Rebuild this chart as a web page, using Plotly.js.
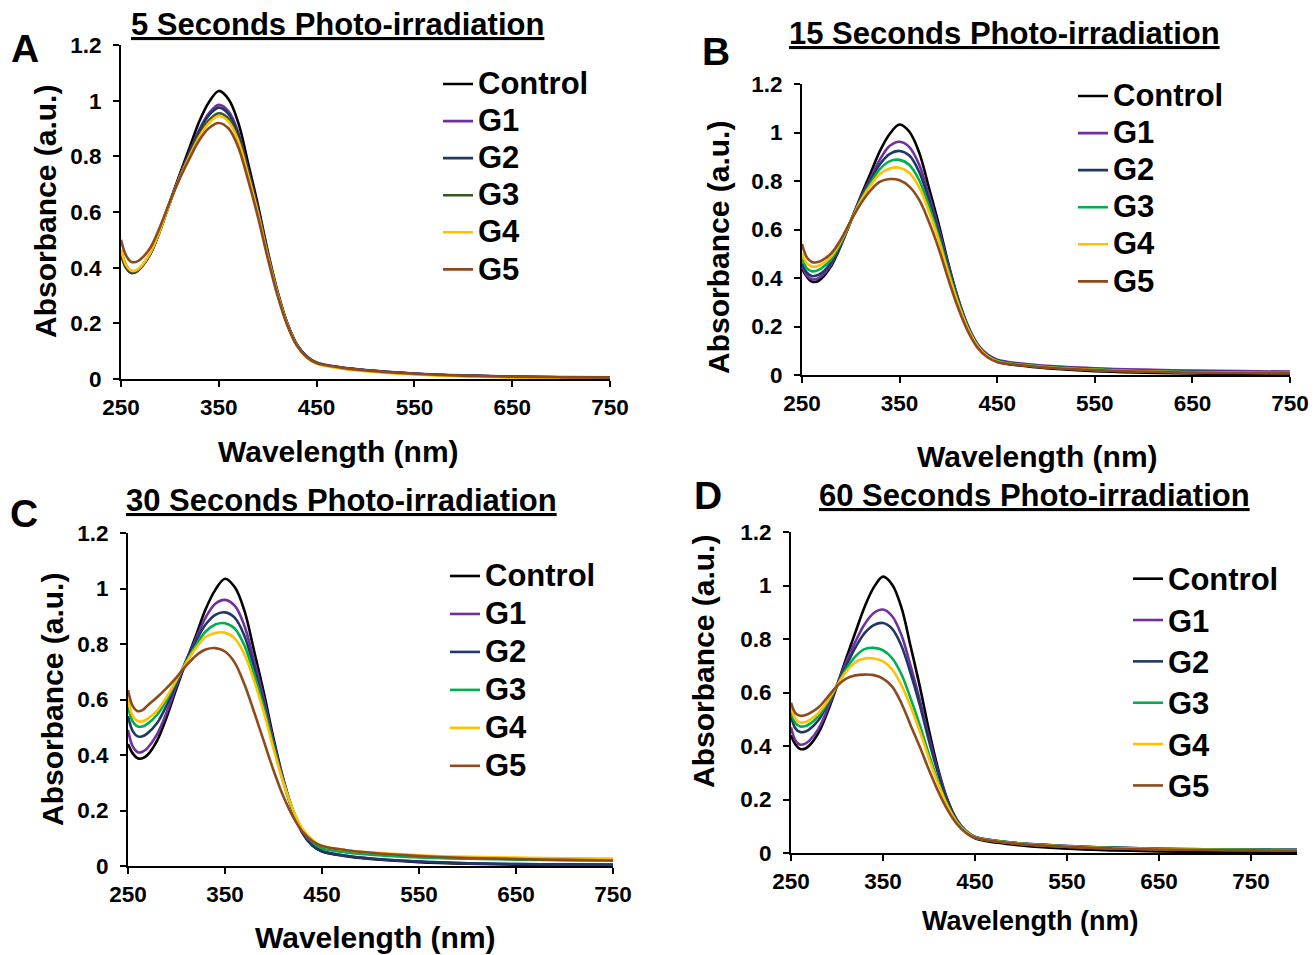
<!DOCTYPE html>
<html>
<head>
<meta charset="utf-8">
<script src="https://cdn.plot.ly/plotly-3.0.1.min.js"></script>
<style>html,body{margin:0;padding:0;background:#fff;}#chart{width:1315px;height:955px;}</style>
</head>
<body>
<div id="chart"></div>
<script>
// ---------- DATA ----------
const wavelength  = [250,255,260,265,270,280,290,300,310,320,330,340,350,360,370,380,390,400,410,420,430,440,450,475,500,550,600,650,700,750];
const wavelengthD = [250,255,260,265,270,280,290,300,310,320,330,340,350,360,370,380,390,400,410,420,430,440,450,475,500,550,600,650,700,750,800];
const seriesNames = ['Control','G1','G2','G3','G4','G5'];
const panelTitles = ['5 Seconds Photo-irradiation','15 Seconds Photo-irradiation','30 Seconds Photo-irradiation','60 Seconds Photo-irradiation'];
const panelLetters = ['A','B','C','D'];
const xTickVals = [250,350,450,550,650,750];
const yTickVals = [0,0.2,0.4,0.6,0.8,1,1.2];
const xTitle = 'Wavelength (nm)';
const yTitle = 'Absorbance (a.u.)';

// Panel A: 5 s
const ctrlA = [0.46,0.41,0.388,0.387,0.40,0.45,0.535,0.635,0.735,0.83,0.925,0.995,1.035,1.005,0.92,0.775,0.625,0.46,0.315,0.2,0.122,0.08,0.058,0.041,0.031,0.019,0.012,0.008,0.006,0.005];
const g1A   = [0.45,0.40,0.382,0.383,0.398,0.45,0.535,0.635,0.73,0.815,0.895,0.955,0.985,0.962,0.885,0.752,0.61,0.452,0.312,0.2,0.123,0.081,0.059,0.042,0.032,0.02,0.013,0.009,0.007,0.006];
const g2A   = [0.45,0.40,0.382,0.384,0.399,0.45,0.535,0.635,0.728,0.812,0.89,0.948,0.975,0.952,0.877,0.747,0.607,0.45,0.31,0.199,0.122,0.08,0.058,0.041,0.031,0.019,0.012,0.008,0.006,0.005];
const g3A   = [0.455,0.405,0.385,0.386,0.40,0.452,0.535,0.635,0.725,0.805,0.878,0.93,0.955,0.935,0.862,0.737,0.6,0.446,0.308,0.198,0.121,0.079,0.057,0.04,0.03,0.018,0.011,0.007,0.005,0.004];
const g4A   = [0.465,0.41,0.39,0.39,0.403,0.454,0.535,0.634,0.722,0.80,0.87,0.92,0.945,0.925,0.855,0.732,0.596,0.443,0.306,0.196,0.12,0.077,0.055,0.038,0.028,0.016,0.009,0.005,0.003,0.002];
const g5A   = [0.50,0.445,0.422,0.42,0.43,0.472,0.548,0.638,0.72,0.792,0.858,0.902,0.92,0.9,0.832,0.714,0.582,0.434,0.3,0.193,0.119,0.078,0.057,0.041,0.031,0.019,0.012,0.008,0.006,0.005];

// Panel B: 15 s
const ctrlB = [0.44,0.405,0.385,0.385,0.398,0.45,0.535,0.635,0.735,0.83,0.925,0.995,1.033,1.003,0.918,0.773,0.623,0.458,0.313,0.198,0.12,0.077,0.055,0.038,0.028,0.016,0.01,0.006,0.004,0.003];
const g1B   = [0.45,0.41,0.395,0.396,0.408,0.458,0.538,0.635,0.73,0.81,0.89,0.945,0.962,0.94,0.868,0.742,0.605,0.452,0.315,0.204,0.127,0.085,0.063,0.047,0.038,0.028,0.022,0.018,0.016,0.014];
const g2B   = [0.46,0.422,0.408,0.41,0.42,0.465,0.54,0.635,0.725,0.8,0.87,0.912,0.924,0.905,0.838,0.722,0.59,0.443,0.308,0.2,0.124,0.081,0.06,0.044,0.035,0.024,0.017,0.013,0.011,0.01];
const g3B   = [0.48,0.44,0.428,0.43,0.44,0.478,0.547,0.636,0.72,0.79,0.85,0.882,0.887,0.866,0.804,0.697,0.572,0.43,0.3,0.195,0.121,0.079,0.058,0.043,0.034,0.023,0.016,0.012,0.01,0.009];
const g4B   = [0.50,0.46,0.447,0.448,0.456,0.49,0.553,0.636,0.715,0.78,0.83,0.852,0.855,0.833,0.775,0.675,0.556,0.419,0.293,0.19,0.118,0.077,0.056,0.041,0.032,0.021,0.015,0.011,0.009,0.008];
const g5B   = [0.54,0.485,0.466,0.465,0.472,0.502,0.56,0.636,0.705,0.76,0.797,0.808,0.803,0.777,0.723,0.632,0.522,0.394,0.276,0.18,0.112,0.073,0.054,0.04,0.031,0.02,0.014,0.01,0.008,0.007];

// Panel C: 30 s
const ctrlC = [0.44,0.405,0.388,0.388,0.40,0.452,0.538,0.64,0.738,0.83,0.925,0.995,1.035,1.005,0.92,0.775,0.625,0.46,0.315,0.198,0.118,0.074,0.052,0.035,0.025,0.014,0.008,0.005,0.003,0.002];
const g1C   = [0.49,0.43,0.41,0.412,0.425,0.475,0.555,0.65,0.74,0.82,0.895,0.945,0.959,0.938,0.866,0.74,0.603,0.45,0.312,0.2,0.122,0.077,0.054,0.037,0.027,0.016,0.01,0.007,0.006,0.005];
const g2C   = [0.54,0.485,0.467,0.468,0.478,0.515,0.58,0.66,0.74,0.81,0.87,0.905,0.914,0.895,0.83,0.715,0.585,0.438,0.305,0.197,0.12,0.076,0.054,0.037,0.027,0.016,0.01,0.007,0.006,0.005];
const g3C   = [0.575,0.52,0.503,0.503,0.512,0.545,0.6,0.668,0.735,0.795,0.845,0.87,0.875,0.856,0.795,0.692,0.572,0.432,0.305,0.201,0.128,0.086,0.064,0.049,0.041,0.031,0.026,0.023,0.021,0.02];
const g4C   = [0.598,0.54,0.522,0.521,0.53,0.56,0.61,0.672,0.732,0.785,0.825,0.84,0.841,0.82,0.763,0.668,0.555,0.422,0.302,0.203,0.133,0.094,0.073,0.057,0.049,0.039,0.033,0.03,0.028,0.027];
const g5C   = [0.634,0.575,0.558,0.562,0.578,0.608,0.642,0.68,0.722,0.758,0.78,0.785,0.773,0.733,0.655,0.555,0.45,0.345,0.252,0.178,0.123,0.09,0.072,0.057,0.048,0.036,0.029,0.025,0.022,0.02];

// Panel D: 60 s
const ctrlD = [0.44,0.405,0.389,0.39,0.402,0.45,0.53,0.625,0.728,0.825,0.92,0.993,1.033,1.003,0.918,0.773,0.623,0.458,0.313,0.198,0.12,0.077,0.055,0.038,0.028,0.016,0.01,0.006,0.004,0.003,0.003];
const g1D   = [0.47,0.42,0.405,0.408,0.42,0.465,0.54,0.628,0.715,0.79,0.855,0.897,0.91,0.885,0.815,0.7,0.572,0.432,0.304,0.2,0.126,0.083,0.061,0.045,0.036,0.026,0.02,0.016,0.014,0.013,0.012];
const g2D   = [0.51,0.465,0.452,0.453,0.462,0.497,0.558,0.628,0.7,0.768,0.822,0.852,0.86,0.838,0.775,0.672,0.553,0.419,0.297,0.196,0.124,0.082,0.06,0.045,0.036,0.026,0.02,0.016,0.014,0.013,0.012];
const g3D   = [0.53,0.485,0.473,0.474,0.482,0.512,0.563,0.626,0.688,0.735,0.762,0.767,0.758,0.728,0.668,0.578,0.478,0.368,0.266,0.18,0.118,0.08,0.059,0.044,0.035,0.025,0.019,0.015,0.013,0.012,0.011];
const g4D   = [0.545,0.5,0.488,0.489,0.497,0.524,0.57,0.626,0.678,0.713,0.727,0.727,0.716,0.686,0.628,0.548,0.455,0.353,0.258,0.176,0.116,0.079,0.058,0.043,0.034,0.024,0.018,0.014,0.012,0.011,0.01];
const g5D   = [0.562,0.522,0.513,0.515,0.522,0.545,0.584,0.624,0.652,0.664,0.667,0.665,0.652,0.622,0.56,0.478,0.397,0.31,0.23,0.162,0.11,0.076,0.057,0.042,0.033,0.023,0.017,0.013,0.011,0.01,0.009];

// ---------- STYLE / LAYOUT ----------
const W = 1315, H = 955;
const FONT = 'Liberation Sans, Arial, Helvetica, sans-serif';
const colorsA = ['#000000','#7030A0','#203864','#375623','#FFC000','#8C4A1E'];
const colorsBCD = ['#000000','#7030A0','#203864','#00B050','#FFC000','#8C4A1E'];

const panels = [
  {x:wavelength,  series:[ctrlA,g1A,g2A,g3A,g4A,g5A], colors:colorsA,
   px:[121,610], py:[45,379], xr:[250,750],
   leg:{x:438,y:60.5,fs:26.2,ts:31}, title:[337,24], letter:[25,49], ytp:[45,212], xtp:[338,451,30]},
  {x:wavelength,  series:[ctrlB,g1B,g2B,g3B,g4B,g5B], colors:colorsBCD,
   px:[802,1290], py:[84,375], xr:[250,750],
   leg:{x:1073,y:72.5,fs:26.2,ts:31}, title:[1004,33], letter:[716,51], ytp:[718,248], xtp:[1037,456,30]},
  {x:wavelength,  series:[ctrlC,g1C,g2C,g3C,g4C,g5C], colors:colorsBCD,
   px:[128,613], py:[533,866], xr:[250,750],
   leg:{x:445,y:552,fs:26.9,ts:31}, title:[341,501], letter:[24,513], ytp:[52,700], xtp:[375,937,30]},
  {x:wavelengthD, series:[ctrlD,g1D,g2D,g3D,g4D,g5D], colors:colorsBCD,
   px:[791,1297], py:[532,853], xr:[250,800],
   leg:{x:1128,y:553,fs:29.5,ts:31}, title:[1034,495], letter:[708,495], ytp:[703,662], xtp:[1030,921,27]}
];

const traces = [];
const layout = {
  width: W, height: H,
  margin: {l:0, r:0, t:0, b:0},
  paper_bgcolor: '#ffffff', plot_bgcolor: '#ffffff',
  showlegend: true,
  font: {family: FONT, color: '#000', weight: 700},
  annotations: []
};

const px2x = v => v / W;
const px2y = v => 1 - v / H;

panels.forEach((p, i) => {
  const n = i + 1;
  const xa = 'x' + (n === 1 ? '' : n), ya = 'y' + (n === 1 ? '' : n);
  const legName = 'legend' + (n === 1 ? '' : n);
  p.series.forEach((vals, k) => {
    traces.push({
      type: 'scatter', mode: 'lines',
      x: p.x, y: vals,
      name: '<span style="font-size:' + p.leg.ts + 'px">' + seriesNames[k] + '</span>',
      xaxis: xa, yaxis: ya, legend: legName,
      line: {color: p.colors[k], width: 2.6, shape: 'spline', smoothing: 1},
      hoverinfo: 'x+y'
    });
  });
  const axCommon = {
    showline: true, linecolor: '#000', linewidth: 2,
    ticks: 'outside', ticklen: 6, tickwidth: 2, tickcolor: '#000',
    showgrid: false, zeroline: false,
    tickfont: {family: FONT, size: 22.5, color: '#000', weight: 700},
    fixedrange: true
  };
  layout['xaxis' + (n === 1 ? '' : n)] = Object.assign({}, axCommon, {
    domain: [px2x(p.px[0]), px2x(p.px[1])], range: p.xr,
    tickmode: 'array', tickvals: xTickVals, anchor: ya, ticklabelstandoff: 1
  });
  layout['yaxis' + (n === 1 ? '' : n)] = Object.assign({}, axCommon, {
    domain: [px2y(p.py[1]), px2y(p.py[0])], range: [0, 1.2],
    tickmode: 'array', tickvals: yTickVals, anchor: xa, ticklabelstandoff: 7
  });
  layout[legName] = {
    x: px2x(p.leg.x), y: px2y(p.leg.y), xanchor: 'left', yanchor: 'top',
    bgcolor: 'rgba(0,0,0,0)', borderwidth: 0,
    font: {family: FONT, size: p.leg.fs, color: '#000', weight: 700},
    traceorder: 'normal'
  };
  // subplot title (underlined)
  layout.annotations.push({
    xref: 'paper', yref: 'paper', x: px2x(p.title[0]), y: px2y(p.title[1]),
    xanchor: 'center', yanchor: 'middle', showarrow: false,
    text: '<u>' + panelTitles[i] + '</u>',
    font: {family: FONT, size: 31, color: '#000', weight: 700}
  });
  // panel letter
  layout.annotations.push({
    xref: 'paper', yref: 'paper', x: px2x(p.letter[0]), y: px2y(p.letter[1]),
    xanchor: 'center', yanchor: 'middle', showarrow: false,
    text: panelLetters[i],
    font: {family: FONT, size: 39, color: '#000', weight: 700}
  });
  // y axis title
  layout.annotations.push({
    xref: 'paper', yref: 'paper', x: px2x(p.ytp[0]), y: px2y(p.ytp[1]),
    xanchor: 'center', yanchor: 'middle', showarrow: false, textangle: -90,
    text: yTitle,
    font: {family: FONT, size: 30, color: '#000', weight: 700}
  });
  // x axis title
  layout.annotations.push({
    xref: 'paper', yref: 'paper', x: px2x(p.xtp[0]), y: px2y(p.xtp[1]),
    xanchor: 'center', yanchor: 'middle', showarrow: false,
    text: xTitle,
    font: {family: FONT, size: p.xtp[2], color: '#000', weight: 700}
  });
});

Plotly.newPlot('chart', traces, layout, {staticPlot: true, displayModeBar: false});
</script>
</body>
</html>
